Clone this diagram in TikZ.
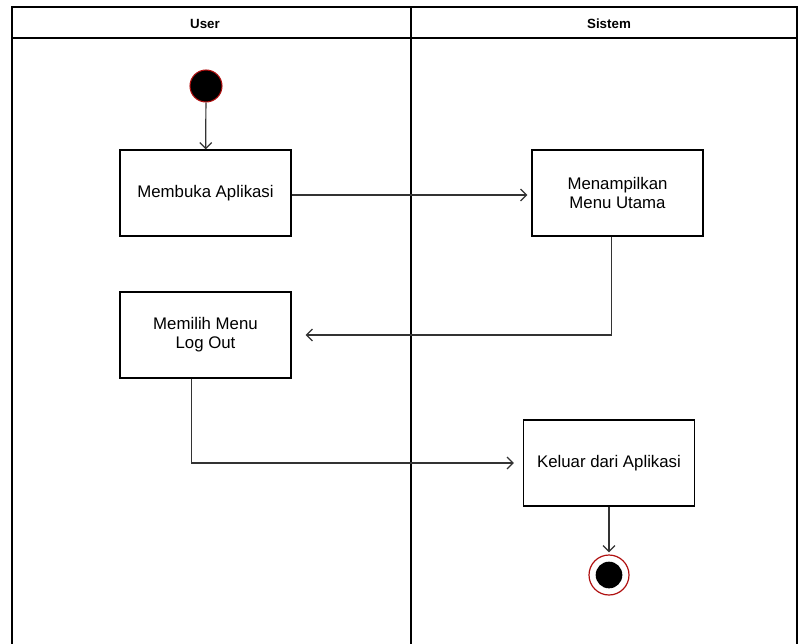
\documentclass[tikz,border=0pt]{standalone}
\usepackage{fontspec}
\setmainfont{Liberation Sans}
\usetikzlibrary{arrows.meta,calc}
\definecolor{lineg}{HTML}{333333}
\definecolor{ringred}{HTML}{B01010}
\tikzset{
  actbox/.style={draw=black, line width=0.9pt, minimum width=128.25pt, minimum height=64.5pt, align=center, font=\fontsize{12.6pt}{14.3pt}\selectfont, inner sep=0pt},
  arr/.style={draw=lineg, line width=0.9pt, -{Straight Barb[length=4.5pt,width=9pt,line width=0.9pt]}},
  lane/.style={draw=black, line width=0.9pt},
  hdr/.style={font=\fontsize{10pt}{12pt}\selectfont\bfseries},
  startst/.style={circle, fill=black, draw=ringred, line width=0.8pt, minimum size=24pt, inner sep=0pt},
  endouter/.style={circle, draw=ringred, fill=white, line width=0.9pt, minimum size=30pt, inner sep=0pt},
  endinner/.style={circle, fill=black, minimum size=20pt, inner sep=0pt}
}
\begin{document}
\begin{tikzpicture}[x=0.75pt,y=-0.75pt]
\useasboundingbox (0,0) rectangle (798,643);
% swimlanes
\draw[lane] (12,650) -- (12,7) -- (797,7) -- (797,650);
\draw[lane] (12,38) -- (797,38);
\draw[lane] (411,7) -- (411,650);
\node[hdr] (huser) at (205,24) {User};
\node[hdr] (hsis) at (609,24) {Sistem};
% nodes
\node[startst] (start) at (206,86) {};
\node[actbox] (b1) at (205.5,193) {Membuka Aplikasi};
\node[actbox] (b2) at (617.5,193) {Menampilkan\\Menu Utama};
\node[actbox] (b3) at (205.5,335) {Memilih Menu\\Log Out};
\node[actbox] (b4) at (609,463) {Keluar dari Aplikasi};
\node[endouter] (endo) at (609,575) {};
\node[endinner] (endi) at (609,575) {};
% connectors
\draw[arr] (start) -- (b1);
\draw[arr, shorten >=3pt] ([yshift=-1.5pt]b1.east) -- ([yshift=-1.5pt]b2.west);
\draw[arr, shorten >=10.5pt] ([xshift=-4.5pt]b2.south) |- (b3.east);
\draw[arr, shorten >=6.75pt] ([xshift=-10.5pt]b3.south) |- (b4.west);
\draw[arr, shorten >=1.5pt] (b4) -- (endo);
\end{tikzpicture}
\end{document}
